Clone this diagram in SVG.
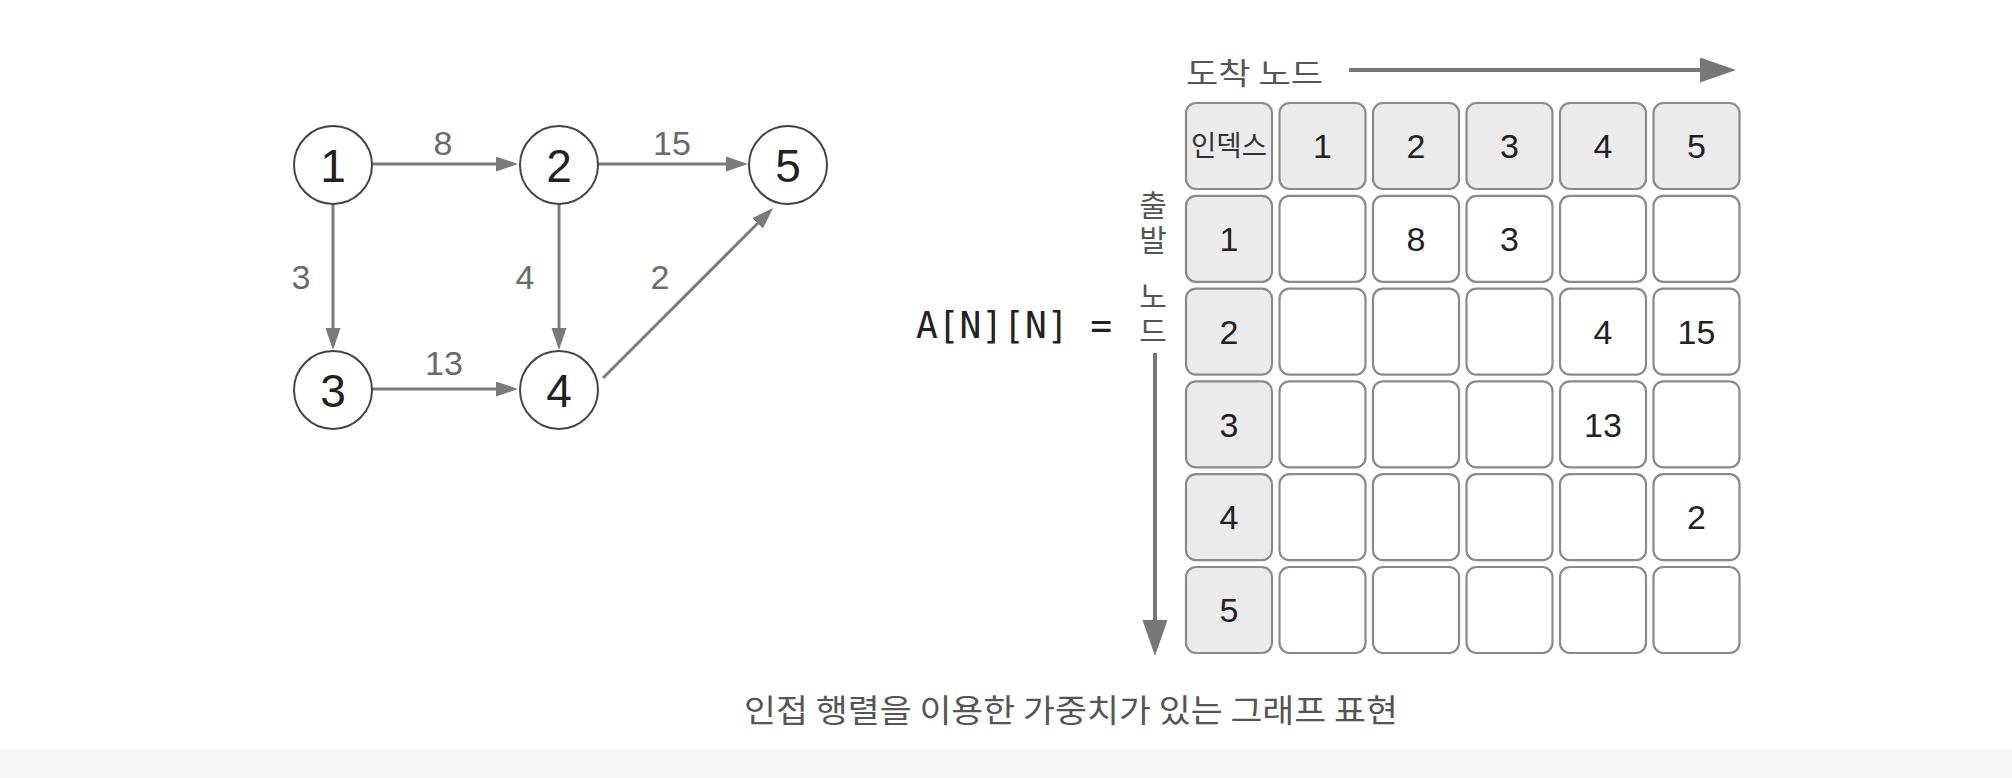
<svg xmlns="http://www.w3.org/2000/svg" width="2012" height="778" viewBox="0 0 2012 778">
<style>
.node circle{fill:#fff;stroke:#444;stroke-width:2}
.nlabel{font-family:"Liberation Sans","DejaVu Sans",sans-serif;font-size:46px;fill:#222;text-anchor:middle}
.elabel{font-family:"Liberation Sans","DejaVu Sans",sans-serif;font-size:34px;fill:#6a6a6a;text-anchor:middle}
.edge{stroke:#7a7a7a;stroke-width:3;fill:none}
.big{stroke:#777;stroke-width:4;fill:none}
.hdr{fill:#ebebeb;stroke:#8a8a8a;stroke-width:2.2}
.cell{fill:#fff;stroke:#8a8a8a;stroke-width:2.2}
.ctext{font-family:"Liberation Sans","DejaVu Sans",sans-serif;font-size:34px;fill:#222;text-anchor:middle}
.kr{font-family:"Noto Sans CJK KR","Noto Sans",sans-serif;fill:#555}
.vert{writing-mode:vertical-rl;text-orientation:upright;letter-spacing:5px}
.mono{font-family:"DejaVu Sans Mono","Liberation Mono",monospace;font-size:38px;fill:#222}
</style>
<defs>
<marker id="ah" markerUnits="userSpaceOnUse" markerWidth="24" markerHeight="16" refX="12" refY="7.5" orient="auto">
<path d="M0,0 L22,7.5 L0,15 z" fill="#7a7a7a"/>
</marker>
<marker id="bigah" markerUnits="userSpaceOnUse" markerWidth="40" markerHeight="26" refX="24" refY="12.5" orient="auto">
<path d="M0,0 L36,12.5 L0,25 z" fill="#777"/>
</marker>
</defs>
<rect x="0" y="0" width="2012" height="778" fill="#fff"/>
<rect x="0" y="749" width="2012" height="29" fill="#f7f7f7"/>

<g id="connectors">
<line class="edge" x1="372" y1="164" x2="508" y2="164" marker-end="url(#ah)"/>
<line class="edge" x1="598" y1="164" x2="738" y2="164" marker-end="url(#ah)"/>
<line class="edge" x1="333" y1="204" x2="333" y2="340" marker-end="url(#ah)"/>
<line class="edge" x1="559" y1="204" x2="559" y2="340" marker-end="url(#ah)"/>
<line class="edge" x1="372" y1="389" x2="508" y2="389" marker-end="url(#ah)"/>
<line class="edge" x1="603" y1="378" x2="766" y2="215" marker-end="url(#ah)"/>
<text class="elabel" x="443" y="155">8</text>
<text class="elabel" x="672" y="155">15</text>
<text class="elabel" x="301" y="289">3</text>
<text class="elabel" x="525" y="289">4</text>
<text class="elabel" x="660" y="289">2</text>
<text class="elabel" x="444" y="375">13</text>
</g>

<g id="node1" class="node"><circle cx="333" cy="165" r="39"/><text class="nlabel" x="333" y="182">1</text></g>
<g id="node2" class="node"><circle cx="559" cy="165" r="39"/><text class="nlabel" x="559" y="182">2</text></g>
<g id="node5" class="node"><circle cx="788" cy="165" r="39"/><text class="nlabel" x="788" y="182">5</text></g>
<g id="node3" class="node"><circle cx="333" cy="390" r="39"/><text class="nlabel" x="333" y="407">3</text></g>
<g id="node4" class="node"><circle cx="559" cy="390" r="39"/><text class="nlabel" x="559" y="407">4</text></g>

<g id="equation"><text class="mono" x="916" y="338" textLength="196" lengthAdjust="spacingAndGlyphs">A[N][N] =</text></g>

<g id="axis-labels">
<text class="kr" x="1186" y="84" font-size="30" textLength="137" lengthAdjust="spacingAndGlyphs">도착 노드</text>
<line class="big" x1="1349" y1="70" x2="1724" y2="70" marker-end="url(#bigah)"/>
<text class="kr vert" x="1153" y="190" font-size="30">출발</text>
<text class="kr vert" x="1153" y="281" font-size="30">노드</text>
<line class="big" x1="1155" y1="353" x2="1155" y2="644" marker-end="url(#bigah)"/>
</g>

<g id="matrix">
<g id="row0">
<rect class="hdr" x="1186" y="103" width="86" height="86" rx="10"/>
<text class="kr" x="1229" y="156" font-size="28" text-anchor="middle" textLength="76" lengthAdjust="spacingAndGlyphs" style="fill:#333">인덱스</text>
<rect class="hdr" x="1279.5" y="103" width="86" height="86" rx="10"/><text class="ctext" x="1322.5" y="158">1</text>
<rect class="hdr" x="1373" y="103" width="86" height="86" rx="10"/><text class="ctext" x="1416" y="158">2</text>
<rect class="hdr" x="1466.5" y="103" width="86" height="86" rx="10"/><text class="ctext" x="1509.5" y="158">3</text>
<rect class="hdr" x="1560" y="103" width="86" height="86" rx="10"/><text class="ctext" x="1603" y="158">4</text>
<rect class="hdr" x="1653.5" y="103" width="86" height="86" rx="10"/><text class="ctext" x="1696.5" y="158">5</text>
</g>
<g id="row1">
<rect class="hdr" x="1186" y="195.8" width="86" height="86" rx="10"/><text class="ctext" x="1229" y="251">1</text>
<rect class="cell" x="1279.5" y="195.8" width="86" height="86" rx="10"/>
<rect class="cell" x="1373" y="195.8" width="86" height="86" rx="10"/><text class="ctext" x="1416" y="251">8</text>
<rect class="cell" x="1466.5" y="195.8" width="86" height="86" rx="10"/><text class="ctext" x="1509.5" y="251">3</text>
<rect class="cell" x="1560" y="195.8" width="86" height="86" rx="10"/>
<rect class="cell" x="1653.5" y="195.8" width="86" height="86" rx="10"/>
</g>
<g id="row2">
<rect class="hdr" x="1186" y="288.6" width="86" height="86" rx="10"/><text class="ctext" x="1229" y="344">2</text>
<rect class="cell" x="1279.5" y="288.6" width="86" height="86" rx="10"/>
<rect class="cell" x="1373" y="288.6" width="86" height="86" rx="10"/>
<rect class="cell" x="1466.5" y="288.6" width="86" height="86" rx="10"/>
<rect class="cell" x="1560" y="288.6" width="86" height="86" rx="10"/><text class="ctext" x="1603" y="344">4</text>
<rect class="cell" x="1653.5" y="288.6" width="86" height="86" rx="10"/><text class="ctext" x="1696.5" y="344">15</text>
</g>
<g id="row3">
<rect class="hdr" x="1186" y="381.4" width="86" height="86" rx="10"/><text class="ctext" x="1229" y="437">3</text>
<rect class="cell" x="1279.5" y="381.4" width="86" height="86" rx="10"/>
<rect class="cell" x="1373" y="381.4" width="86" height="86" rx="10"/>
<rect class="cell" x="1466.5" y="381.4" width="86" height="86" rx="10"/>
<rect class="cell" x="1560" y="381.4" width="86" height="86" rx="10"/><text class="ctext" x="1603" y="437">13</text>
<rect class="cell" x="1653.5" y="381.4" width="86" height="86" rx="10"/>
</g>
<g id="row4">
<rect class="hdr" x="1186" y="474.2" width="86" height="86" rx="10"/><text class="ctext" x="1229" y="529">4</text>
<rect class="cell" x="1279.5" y="474.2" width="86" height="86" rx="10"/>
<rect class="cell" x="1373" y="474.2" width="86" height="86" rx="10"/>
<rect class="cell" x="1466.5" y="474.2" width="86" height="86" rx="10"/>
<rect class="cell" x="1560" y="474.2" width="86" height="86" rx="10"/>
<rect class="cell" x="1653.5" y="474.2" width="86" height="86" rx="10"/><text class="ctext" x="1696.5" y="529">2</text>
</g>
<g id="row5">
<rect class="hdr" x="1186" y="567" width="86" height="86" rx="10"/><text class="ctext" x="1229" y="622">5</text>
<rect class="cell" x="1279.5" y="567" width="86" height="86" rx="10"/>
<rect class="cell" x="1373" y="567" width="86" height="86" rx="10"/>
<rect class="cell" x="1466.5" y="567" width="86" height="86" rx="10"/>
<rect class="cell" x="1560" y="567" width="86" height="86" rx="10"/>
<rect class="cell" x="1653.5" y="567" width="86" height="86" rx="10"/>
</g>
</g>

<g id="caption"><text class="kr" x="744" y="722" font-size="32" textLength="654" lengthAdjust="spacingAndGlyphs">인접 행렬을 이용한 가중치가 있는 그래프 표현</text></g>
</svg>
